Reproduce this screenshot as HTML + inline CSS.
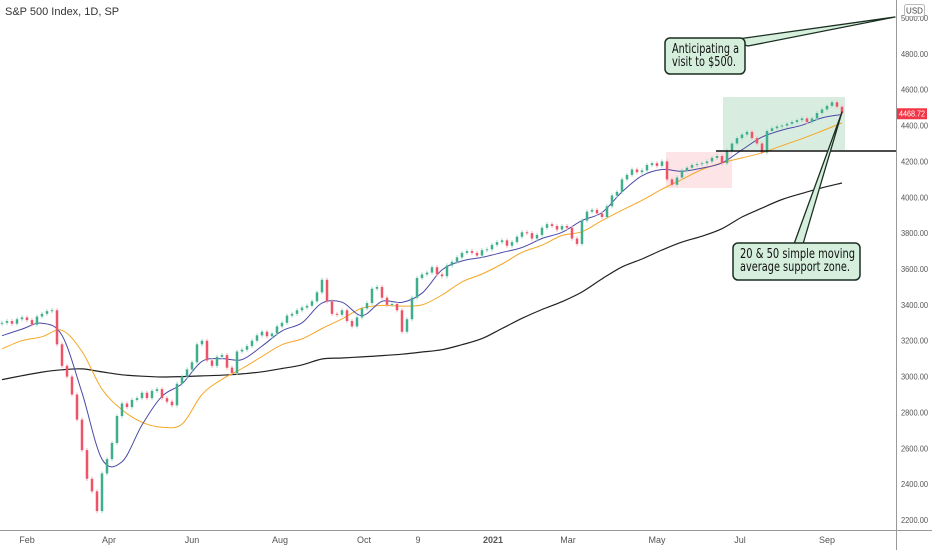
<!DOCTYPE html>
<html><head><meta charset="utf-8">
<style>
html,body{margin:0;padding:0;background:#fff;}
svg{display:block;font-family:"Liberation Sans",sans-serif;}
</style></head>
<body>
<svg id="chart" width="932" height="550" viewBox="0 0 932 550" xmlns="http://www.w3.org/2000/svg">
<rect x="0" y="0" width="932" height="550" fill="#fff"/>
<g id="zones"></g>
<g id="ma"></g>
<g id="candles"></g>
<g id="axes"></g>
<g id="notes"></g>
<text x="5" y="15" font-size="11" fill="#333">S&amp;P 500 Index, 1D, SP</text>
</svg>
<script>
const closes = [3300,3310,3295,3320,3330,3315,3290,3335,3350,3365,3370,3180,3060,3000,2900,2760,2590,2430,2360,2250,
2460,2540,2630,2780,2850,2830,2870,2880,2910,2880,2920,2930,2880,2860,2840,2960,3000,3040,3080,3180,
3200,3090,3060,3110,3120,3050,3020,3140,3150,3170,3200,3230,3250,3225,3240,3280,3300,3340,3350,3370,
3385,3395,3420,3470,3540,3420,3350,3345,3370,3310,3280,3330,3380,3410,3490,3500,3440,3400,3405,3370,
3250,3320,3440,3550,3570,3580,3610,3570,3560,3620,3640,3665,3690,3700,3690,3675,3705,3710,3735,3750,
3760,3730,3750,3780,3805,3800,3770,3790,3830,3850,3840,3820,3840,3830,3770,3740,3870,3920,3930,3910,
3890,3950,4010,4030,4100,4125,4155,4140,4150,4180,4190,4175,4200,4100,4070,4110,4150,4165,4180,4185,
4190,4200,4220,4230,4190,4260,4300,4330,4350,4365,4330,4300,4250,4370,4385,4395,4400,4410,4420,4430,
4440,4420,4440,4470,4490,4510,4530,4505,4469];
const ma20 = [3228,3265,3298,3230,2910,2540,2525,2730,2890,2960,3085,3100,3095,3170,3255,3300,3410,3415,3340,3420,3414,3465,3595,3645,3665,3692,3720,3770,3805,3870,3915,4030,4120,4155,4145,4163,4192,4265,4336,4375,4402,4443,4462];
const ma50 = [3155,3200,3222,3258,3140,2930,2815,2745,2718,2735,2900,2985,3045,3112,3178,3210,3268,3322,3382,3397,3393,3400,3455,3528,3572,3628,3693,3733,3787,3808,3870,3928,3983,4045,4100,4155,4192,4220,4248,4288,4327,4370,4415];
const ma200 = [2983,3005,3025,3038,3043,3026,3010,3002,2998,3000,3004,3008,3015,3027,3045,3065,3098,3104,3110,3117,3125,3137,3150,3178,3212,3268,3325,3374,3418,3472,3545,3612,3656,3706,3750,3783,3825,3890,3940,3988,4022,4053,4080];
const yTicks = [5000,4800,4600,4400,4200,4000,3800,3600,3400,3200,3000,2800,2600,2400,2200];
const xLabels = ["Feb","Apr","Jun","Aug","Oct","9","2021","Mar","May","Jul","Sep"];
const xLabelIdx = [5,21.4,38,55.6,72.4,83.2,98.2,113.2,131,147.6,165];
const lastPrice = 4468.72;

const NS="http://www.w3.org/2000/svg";
function Y(p){return 18+(5000-p)*0.1793;}
function X(i){return 2+5*i;}
function XM(k){return 2+20*k;}
function mk(tag,attrs,parent){const e=document.createElementNS(NS,tag);for(const k in attrs)e.setAttribute(k,attrs[k]);parent.appendChild(e);return e;}

const zones=document.getElementById('zones');
let z1=mk('rect',{x:666,y:152,width:66,height:36,fill:'rgba(242,54,69,0.13)'},zones);


let z2=mk('rect',{x:723,y:97,width:122,height:53,fill:'rgba(76,175,110,0.22)'},zones);



const maG=document.getElementById('ma');
function line(arr,color,w,name){
  const pts=arr.map((v,k)=>[XM(k),Y(v)]);
  let d='M'+pts[0][0]+' '+pts[0][1].toFixed(1);
  for(let k=0;k<pts.length-1;k++){
    const p0=pts[k-1]||pts[k],p1=pts[k],p2=pts[k+1],p3=pts[k+2]||p2;
    const c1=[p1[0]+(p2[0]-p0[0])/6,p1[1]+(p2[1]-p0[1])/6];
    const c2=[p2[0]-(p3[0]-p1[0])/6,p2[1]-(p3[1]-p1[1])/6];
    d+=' C'+c1[0].toFixed(1)+' '+c1[1].toFixed(1)+' '+c2[0].toFixed(1)+' '+c2[1].toFixed(1)+' '+p2[0]+' '+p2[1].toFixed(1);
  }
  const p=mk('path',{d:d,fill:'none',stroke:color,'stroke-width':w,'stroke-linejoin':'round'},maG);
  
  
}
line(ma200,'#222',1.2,'sma-200-line');
line(ma50,'#f5a623',1,'sma-50-line');
line(ma20,'#4a4aa8',1,'sma-20-line');

const cg=document.getElementById('candles');
closes.forEach((c,i)=>{
  const o=i?closes[i-1]:c-5;
  const up=c>=o;
  const col=up?'#3fae8c':'#ef5367';
  const hi=Math.max(o,c)+12, lo=Math.min(o,c)-12;
  const x=X(i);
  const w=mk('line',{x1:x,x2:x,y1:Y(hi),y2:Y(lo),stroke:up?'#a7dccb':'#f6b3bd','stroke-width':1},cg);
  
  
  const top=Y(Math.max(o,c)), bot=Y(Math.min(o,c));
  const b=mk('rect',{x:x-1.25,y:top,width:2.5,height:Math.max(1,bot-top),fill:col},cg);
  
  
});

const ax=document.getElementById('axes');
let al=mk('line',{x1:896.5,x2:896.5,y1:0,y2:550,stroke:'#999','stroke-width':1},ax);


let bl=mk('line',{x1:0,x2:932,y1:530.5,y2:530.5,stroke:'#999','stroke-width':1},ax);


yTicks.forEach(t=>{
  const tx=mk('text',{x:901,y:Y(t)+3,'font-size':8,fill:'#555',textLength:27,lengthAdjust:'spacingAndGlyphs'},ax);
  tx.textContent=t.toFixed(2);
  
  
});
xLabels.forEach((l,j)=>{
  const tx=mk('text',{x:X(xLabelIdx[j]),y:543,'font-size':9,fill:'#555','text-anchor':'middle','font-weight':l==='2021'?'bold':'normal'},ax);
  tx.textContent=l;
  
  
});
let usd=mk('rect',{x:904.5,y:4.5,width:20,height:12,rx:2,fill:'#fff',stroke:'#bbb'},ax);


let ut=mk('text',{x:914.5,y:13.5,'font-size':8,fill:'#444','text-anchor':'middle'},ax);
ut.textContent='USD';


const ly=Y(lastPrice);
let badge=mk('rect',{x:897,y:ly-5,width:30,height:11,fill:'#f23645'},ax);


let bt=mk('text',{x:912,y:ly+3.2,'font-size':8,fill:'#fff','text-anchor':'middle',textLength:26,lengthAdjust:'spacingAndGlyphs'},ax);
bt.textContent=lastPrice.toFixed(2);



const ng=document.getElementById('notes');
let hl=mk('line',{x1:716,x2:896,y1:151,y2:151,stroke:'#111','stroke-width':1.5},ng);


function callout(bx,by,bw,bh,tail,lines,name){
  const g=mk('g',{},ng);
  
  
  mk('polygon',{points:tail,fill:'#d6efdc',stroke:'#1a2e22','stroke-width':1.3,'stroke-linejoin':'round'},g);
  mk('rect',{x:bx,y:by,width:bw,height:bh,rx:5,fill:'#d6efdc',stroke:'#1a2e22','stroke-width':1.5},g);
  lines.forEach((t,k)=>{
    const tx=mk('text',{x:bx+7,y:by+15+k*13,'font-size':13,fill:'#111','font-family':'DejaVu Sans, sans-serif',textLength:t[1],lengthAdjust:'spacingAndGlyphs'},g);
    tx.textContent=t[0];
    
    
  });
}
callout(665,38,80,36,'738,39 895,17 748,46 745,45',[['Anticipating a',67],['visit to $500.',64]],'target-callout');
callout(733,243,127,37,'794,244 842,112 803,244',[['20 & 50 simple moving',115],['average support zone.',110]],'support-callout');
</script>
</body></html>
